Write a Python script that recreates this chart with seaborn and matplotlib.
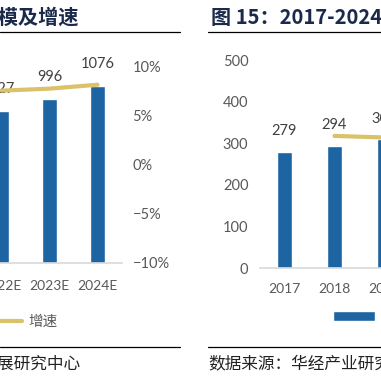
import matplotlib.pyplot as plt
import numpy as np
import seaborn as sns
from matplotlib.lines import Line2D
from matplotlib.patches import Patch
from matplotlib.ticker import FuncFormatter

# data (both panels are cropped in the reference)
left_years = ["2022E", "2023E", "2024E"]
left_size = [927, 996, 1076]
left_growth = [7.5, 7.7, 8.1]

right_years = ["2017", "2018", "2019"]
right_size = [279, 294, 309]
right_growth = [np.nan, 5.4, 5.1]

BLUE = "#1D64A3"
GOLD = "#D9C26A"
GREY = "#595959"
NAVY = "#1B2A4A"

sns.set_style("white")
plt.rcParams["font.family"] = ["Lato", "Noto Sans CJK SC", "DejaVu Sans"]
plt.rcParams["axes.unicode_minus"] = True

W = 381.0


def fx(px):
    return px / W


def fy(py):
    return 1 - py / W


fig = plt.figure(figsize=(3.81, 3.81), dpi=100)

# ---------------- left panel ----------------
ax = fig.add_axes([fx(-22.5), fy(263), fx(144), 197 / W])
sns.barplot(x=left_years, y=left_size, ax=ax, color=BLUE, width=0.32, saturation=1)
ax.set_ylim(0, 1200)
ax.set_yticks([])
ax.bar_label(ax.containers[0], labels=[str(v) for v in left_size], padding=11,
             fontsize=10.5, color="#404040")
ax2 = ax.twinx()
sns.lineplot(x=np.arange(len(left_years)), y=left_growth, ax=ax2, color=GOLD, linewidth=3)
ax.set_xlim(-0.5, len(left_years) - 0.5)
ax2.set_ylim(-10, 10)
ax2.set_yticks([-10, -5, 0, 5, 10])
ax2.yaxis.set_major_formatter(FuncFormatter(lambda v, p: f"{int(v)}%".replace("-", "\u2212")))
ax2.tick_params(axis="y", length=0, pad=8, labelsize=10.5, colors=GREY)
ax.tick_params(axis="x", length=0, pad=12, labelsize=10, colors=GREY)
for a in (ax, ax2):
    for s in a.spines.values():
        s.set_visible(False)
    a.set_xlabel("")
    a.set_ylabel("")
ax.spines["bottom"].set_visible(True)
ax.spines["bottom"].set_color("#D9D9D9")
ax.spines["bottom"].set_linewidth(1.2)

# ---------------- right panel ----------------
bx = fig.add_axes([fx(259.5), fy(268), fx(150), 208 / W])
sns.barplot(x=right_years, y=right_size, ax=bx, color=BLUE, width=0.3, saturation=1)
bx.set_ylim(0, 500)
bx.set_yticks(range(0, 501, 100))
bx.bar_label(bx.containers[0], labels=[str(v) for v in right_size], padding=10,
             fontsize=10.5, color="#404040")
bx2 = bx.twinx()
sns.lineplot(x=np.arange(len(right_years)), y=right_growth, ax=bx2, color=GOLD, linewidth=3)
bx.set_xlim(-0.5, len(right_years) - 0.5)
bx2.set_ylim(-20, 20)
bx2.set_yticks([])
bx.tick_params(axis="y", length=0, pad=8, labelsize=10.5, colors=GREY)
bx.tick_params(axis="x", length=0, pad=11, labelsize=10, colors=GREY)
for a in (bx, bx2):
    for s in a.spines.values():
        s.set_visible(False)
    a.set_xlabel("")
    a.set_ylabel("")
bx.spines["bottom"].set_visible(True)
bx.spines["bottom"].set_color("#D9D9D9")
bx.spines["bottom"].set_linewidth(1.2)

# ---------------- legends ----------------
handles = [Patch(facecolor=BLUE), Line2D([], [], color=GOLD, lw=3)]
labels = ["市场规模（亿元）", "增速"]
fig.legend(handles, labels, loc="center right", bbox_to_anchor=(fx(58), fy(322)),
           ncol=2, frameon=False, borderpad=0, borderaxespad=0,
           handlelength=1.6, handletextpad=0.45, columnspacing=1.5, labelcolor=GREY,
           prop={"family": ["Noto Sans CJK SC"], "size": 10.5})
fig.legend(handles, labels, loc="center left", bbox_to_anchor=(fx(333), fy(317)),
           ncol=2, frameon=False, borderpad=0, borderaxespad=0,
           handlelength=2.9, handleheight=0.75, handletextpad=0.5, labelcolor=GREY,
           prop={"family": ["Noto Sans CJK SC"], "size": 10.5})

# ---------------- titles, rules, sources ----------------
fig.text(fx(78), fy(17), "图 14：2017-2024年中国市场规模及增速", ha="right", va="center",
         fontsize=14.5, fontweight="bold", color=NAVY, family=["Noto Sans CJK SC"])
fig.text(fx(211), fy(17), "图 15：2017-2024年市场规模及增速", ha="left", va="center",
         fontsize=14.5, fontweight="bold", color=NAVY, family=["Noto Sans CJK SC"])
for x0, x1 in [(0, 180), (208, 381)]:
    for yy in (32, 347):
        fig.add_artist(Line2D([fx(x0), fx(x1)], [fy(yy), fy(yy)], color="black", lw=0.9))
fig.text(fx(80), fy(364), "资料来源：产业发展研究中心", ha="right", va="center",
         fontsize=12, color="#222222", family=["Noto Sans CJK SC"])
fig.text(fx(208), fy(364), "数据来源：华经产业研究院", ha="left", va="center",
         fontsize=12, color="#222222", family=["Noto Sans CJK SC"])

fig.savefig("out.png", dpi=100)
